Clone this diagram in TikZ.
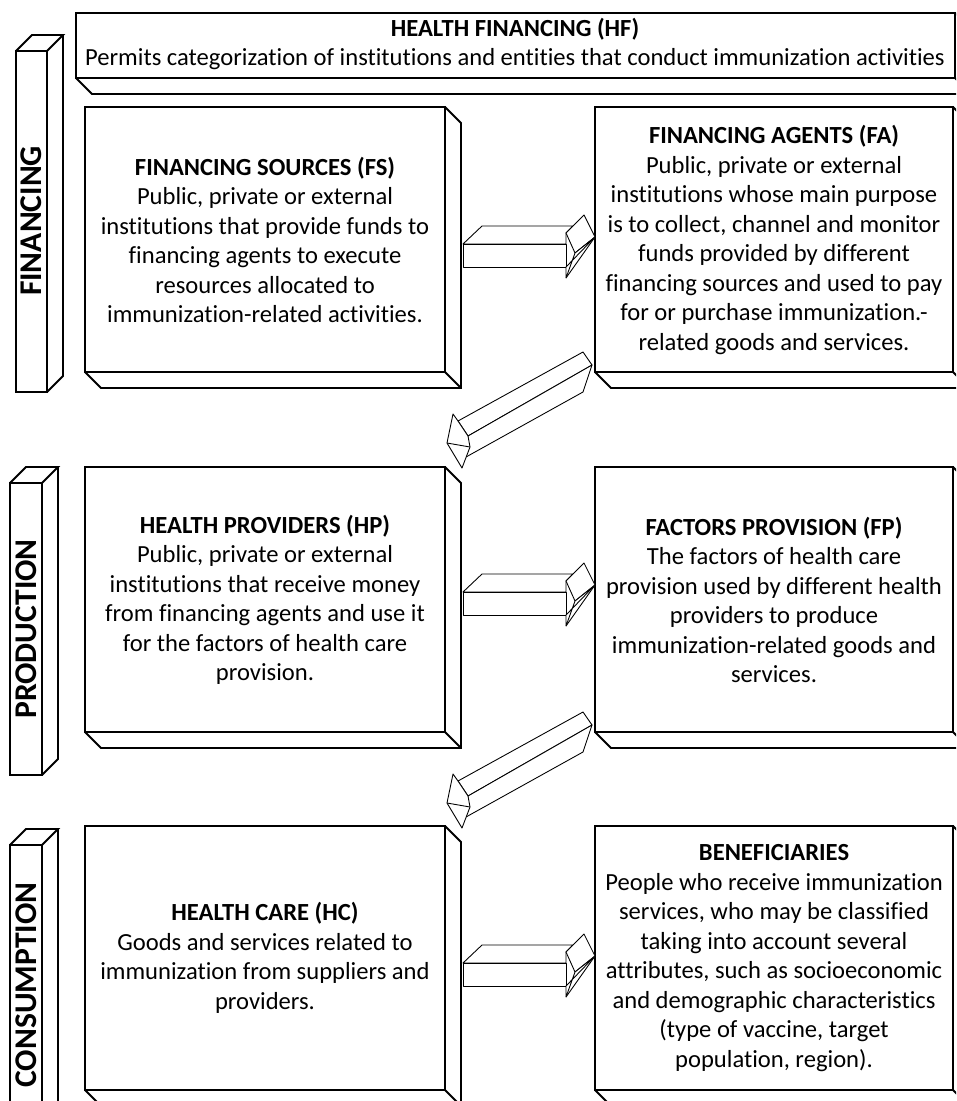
\documentclass[tikz,border=0pt]{standalone}
\usepackage{fontspec}
\setmainfont{Carlito}[Ligatures=NoCommon]
\usetikzlibrary{positioning}
\tikzset{
  frame/.style={draw=black,line width=1.1pt,line join=miter},
  blockarrow/.style={draw=black,line width=0.5pt,fill=white,line join=round},
  boxtext/.style={align=center,font=\fontsize{14}{16.8}\selectfont,inner sep=0pt},
  bartext/.style={rotate=90,font=\fontsize{18}{20}\selectfont\bfseries,inner sep=0pt}
}
% front face top-left (#1,#2), bottom-right (#3,#4), depth to the lower right
\newcommand{\bevelbox}[4]{%
  \draw[frame,fill=white] (#1,#2) rectangle (#3,#4);
  \draw[frame] (#3,#2) -- ++(16,16) -- (#3+16,#4+16) -- (#1+16,#4+16) -- (#1,#4);
  \draw[frame] (#3,#4) -- ++(16,16);}
% upright bar, depth to the upper right
\newcommand{\sidebar}[4]{%
  \draw[frame,fill=white] (#1,#2) rectangle (#3,#4);
  \draw[frame] (#1,#2) -- ++(16,-16) -- (#3+16,#2-16) -- (#3,#2);
  \draw[frame] (#3+16,#2-16) -- (#3+16,#4-16) -- (#3,#4);}
\newcommand{\flatarrow}[2]{%
  \begin{scope}[shift={(#1,#2)}]
    \draw[blockarrow] (0,0) -- (19,-18) -- (110,-18) -- (103,-11) -- (103,0) -- cycle;
    \draw[blockarrow] (0,0) rectangle (103,23);
    \draw[blockarrow] (103,-11) -- (121,-29) -- (132,-7) -- (112,9) -- cycle;
    \draw[blockarrow] (103,23) -- (103,34) -- (112,9) -- (132,-7) -- cycle;
    \draw[blockarrow] (103,34) -- (132,-7);
  \end{scope}}
\newcommand{\slantarrow}[1]{%
  \begin{scope}[shift={(0,#1)}]
    \draw[blockarrow] (583,352) -- (592,365) -- (468,436) -- (458,421) -- cycle;
    \draw[blockarrow] (592,365) -- (583,392) -- (466,457) -- (468,436) -- cycle;
    \draw[blockarrow] (453,414) -- (447,443) -- (462,468) -- (470,447) -- (468,436) -- (458,421) -- cycle;
    \draw[blockarrow] (447,443) -- (470,447);
  \end{scope}}

\begin{document}
\begin{tikzpicture}[x=0.02cm,y=-0.02cm]
  \useasboundingbox (0,0) rectangle (956,1101);
  \clip (0,0) rectangle (956,1101);

  % banner
  \bevelbox{76}{13}{955}{78}
  \node[boxtext] (hf) at (515,44) {\textbf{HEALTH FINANCING (HF)}\\Permits categorization of institutions and entities that conduct immunization activities};

  % side bars
  \sidebar{16}{51}{47}{392}
  \node[bartext] (fin) at (31.5,221) {FINANCING};
  \sidebar{10}{483}{42}{775}
  \node[bartext] (prod) at (26,629) {PRODUCTION};
  \sidebar{10}{845}{42}{1125}
  \node[bartext] (cons) at (26,985) {CONSUMPTION};

  % boxes
  \bevelbox{85}{107}{445}{372}
  \bevelbox{595}{107}{953}{372}
  \bevelbox{85}{467}{445}{732}
  \bevelbox{595}{467}{953}{732}
  \bevelbox{85}{826}{445}{1090}
  \bevelbox{595}{826}{953}{1090}

  \node[boxtext] (fs) at (265,240) {\textbf{FINANCING SOURCES (FS)}\\Public, private or external\\institutions that provide funds to\\financing agents to execute\\resources allocated to\\immunization-related activities.};
  \node[boxtext] (fa) at (774,240) {\textbf{FINANCING AGENTS (FA)}\\Public, private or external\\institutions whose main purpose\\is to collect, channel and monitor\\funds provided by different\\financing sources and used to pay\\for or purchase immunization.-\\related goods and services.};
  \node[boxtext] (hp) at (265,600) {\textbf{HEALTH PROVIDERS (HP)}\\Public, private or external\\institutions that receive money\\from financing agents and use it\\for the factors of health care\\provision.};
  \node[boxtext] (fp) at (774,600) {\textbf{FACTORS PROVISION (FP)}\\The factors of health care\\provision used by different health\\providers to produce\\immunization-related goods and\\services.};
  \node[boxtext] (hc) at (265,958) {\textbf{HEALTH CARE (HC)}\\Goods and services related to\\immunization from suppliers and\\providers.};
  \node[boxtext] (ben) at (774,958) {\textbf{BENEFICIARIES}\\People who receive immunization\\services, who may be classified\\taking into account several\\attributes, such as socioeconomic\\and demographic characteristics\\(type of vaccine, target\\population, region).};

  % block arrows
  \flatarrow{463}{244}
  \flatarrow{463}{592}
  \flatarrow{463}{963}
  \slantarrow{0}
  \slantarrow{360}
\end{tikzpicture}
\end{document}
